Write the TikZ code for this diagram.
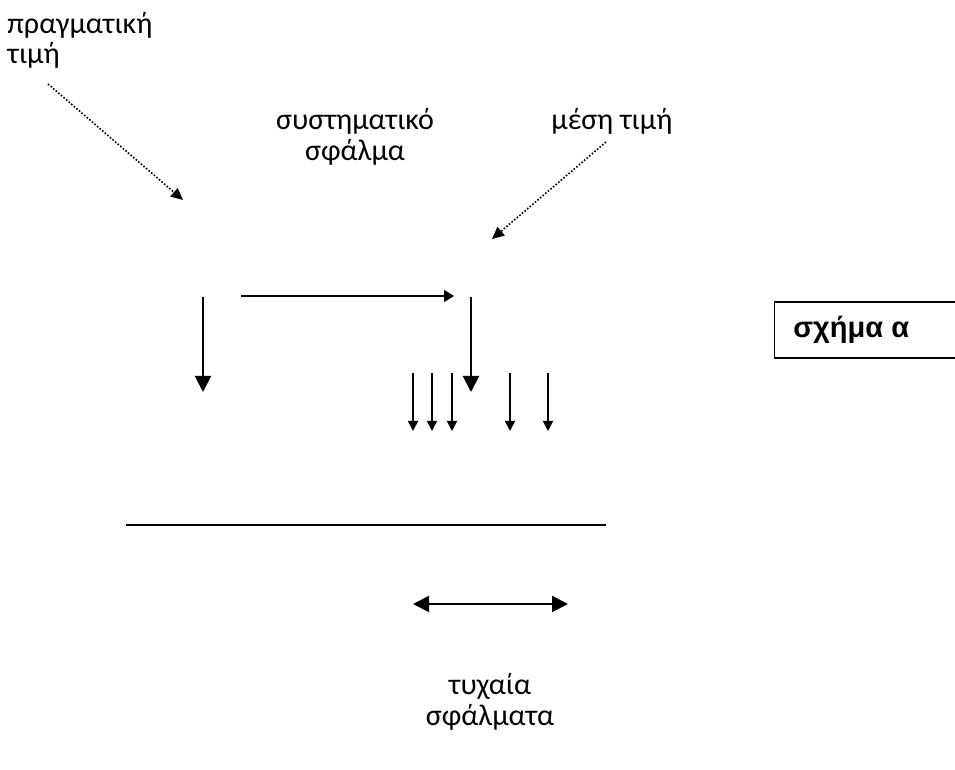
\documentclass[tikz,border=0pt]{standalone}
\usepackage{fontspec}
\setmainfont{Carlito}
\newfontfamily\boxfont{Liberation Sans}
\usetikzlibrary{arrows.meta}
\begin{document}
\begin{tikzpicture}[x=0.5pt,y=-0.5pt,
  lbl/.style={font=\fontsize{15}{16}\selectfont, inner sep=0pt, align=center},
  hint/.style={dash pattern=on 0.8pt off 0.9pt, line width=0.8pt, -{Triangle[length=6pt,width=5.5pt]}},
  bigarrow/.style={line width=1pt, -{Triangle[length=8pt,width=8pt]}},
  midarrow/.style={line width=0.8pt, -{Triangle[length=5pt,width=6pt]}},
  smallarrow/.style={line width=0.8pt, -{Triangle[length=5pt,width=5pt]}},
  base/.style={line width=1pt}]
\useasboundingbox (0,0) rectangle (955,770);

% labels
\node[lbl, anchor=west] (pt1) at (7,25) {πραγματική};
\node[lbl, anchor=west] (pt2) at (7,55) {τιμή};
\node[lbl] (sys1) at (355,121) {συστηματικό};
\node[lbl] (sys2) at (355,152) {σφάλμα};
\node[lbl] (mean) at (612,121) {μέση τιμή};
\node[lbl] (rnd1) at (490,686) {τυχαία};
\node[lbl] (rnd2) at (490,717) {σφάλματα};

% dotted pointers
\coordinate (ptA) at (48,84);
\coordinate (ptB) at (183,200);
\coordinate (mA) at (606,142);
\coordinate (mB) at (492,239);
\draw[hint] (ptA) -- (ptB);
\draw[hint] (mA) -- (mB);

% true value, systematic error and mean value
\coordinate (tv1) at (203,297);
\coordinate (tv2) at (203,392);
\coordinate (se1) at (241,296);
\coordinate (se2) at (454,296);
\coordinate (mv1) at (471,297);
\coordinate (mv2) at (471,392);
\draw[bigarrow] (tv1) -- (tv2);
\draw[midarrow] (se1) -- (se2);
\draw[bigarrow] (mv1) -- (mv2);

% individual measurements
\foreach \n/\x in {a/413,b/432,c/452,d/510,e/548}{
  \coordinate (m\n1) at (\x,373);
  \coordinate (m\n2) at (\x,431);
  \draw[smallarrow] (m\n1) -- (m\n2);
}

% baseline
\coordinate (bl1) at (126,525);
\coordinate (bl2) at (606,525);
\draw[base] (bl1) -- (bl2);

% spread of random errors
\coordinate (sp1) at (413,604);
\coordinate (sp2) at (568,604);
\draw[line width=1pt, {Triangle[length=8pt,width=8pt]}-{Triangle[length=8pt,width=8pt]}] (sp1) -- (sp2);

% caption box
\draw[line width=0.8pt] (960,302) -- (774.5,302) -- (774.5,358) -- (960,358);
\node[anchor=west, inner sep=0pt, font=\boxfont\bfseries\fontsize{14.5}{16}\selectfont] (cap) at (793,330) {σχήμα α};
\end{tikzpicture}
\end{document}
